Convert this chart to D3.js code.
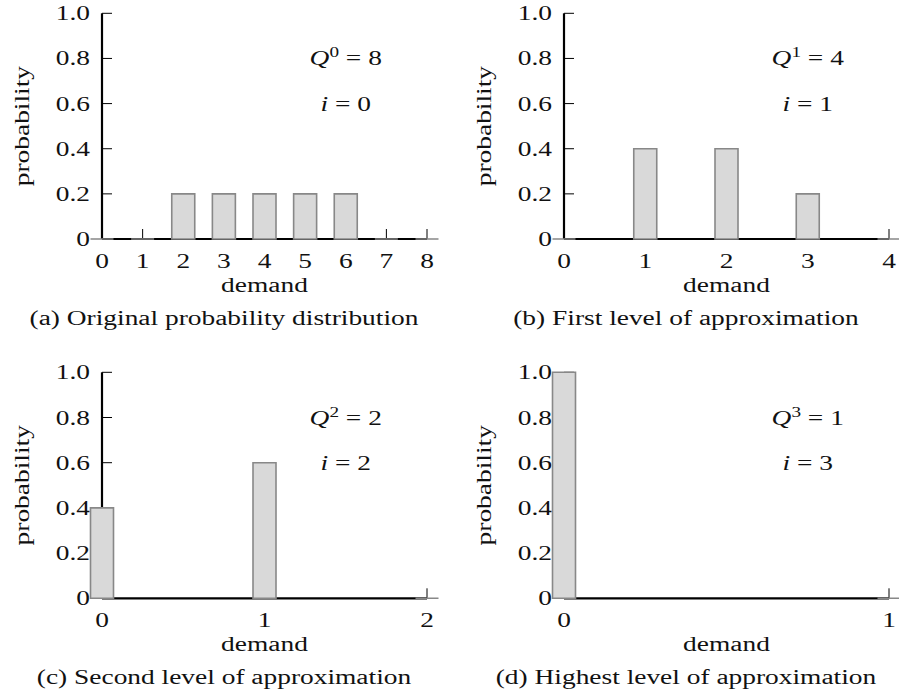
<!DOCTYPE html>
<html><head><meta charset="utf-8">
<script src="https://cdn.jsdelivr.net/npm/d3@7/dist/d3.min.js"></script>
<style>
body{margin:0;background:#fff;}
text{font-family:"Liberation Serif","Times New Roman",serif;fill:#111;}
</style></head>
<body><svg id="c" width="899" height="696"></svg>
<script>
// ---- data ----
const demandA = [0,1,2,3,4,5,6,7,8];
const probA   = [0,0,0.2,0.2,0.2,0.2,0.2,0,0];
const demandB = [0,1,2,3,4];
const probB   = [0,0.4,0.4,0.2,0];
const demandC = [0,1,2];
const probC   = [0.4,0.6,0];
const demandD = [0,1];
const probD   = [1.0,0];
const yTicks = [0,0.2,0.4,0.6,0.8,1.0];
const yTickLabels = ["0","0.2","0.4","0.6","0.8","1.0"];
const levels = [0,1,2,3];
const Qvalues = [8,4,2,1];
const captions = ["(a) Original probability distribution","(b) First level of approximation","(c) Second level of approximation","(d) Highest level of approximation"];
const xLabel = "demand", yLabel = "probability";

// ---- layout ----
const panels = [
  {demand:demandA, prob:probA, x0:102, x1:427, yb:239, yt:13.3},
  {demand:demandB, prob:probB, x0:564, x1:889, yb:239, yt:13.3},
  {demand:demandC, prob:probC, x0:102, x1:427, yb:598.3, yt:372.3},
  {demand:demandD, prob:probD, x0:564, x1:889, yb:598.3, yt:372.3}
];
const FS = 20, K = 1.37, barW = 23;
const svg = d3.select("#c");

function stretch(sel){
  sel.each(function(){
    const w = this.getComputedTextLength();
    d3.select(this).attr("textLength", w*K).attr("lengthAdjust","spacingAndGlyphs");
  });
  return sel;
}

panels.forEach((p,i)=>{
  const g = svg.append("g");
  const x = d3.scaleLinear().domain([0, d3.max(p.demand)]).range([p.x0,p.x1]);
  const y = d3.scaleLinear().domain([0,1]).range([p.yb,p.yt]);

  // y ticks (inward) and labels
  g.selectAll(".yt").data(yTicks.slice(1)).join("line")
    .attr("x1",p.x0).attr("x2",p.x0+10).attr("y1",d=>y(d)).attr("y2",d=>y(d))
    .attr("stroke","#000").attr("stroke-width",1);
  g.selectAll(".yl").data(yTicks).join("text")
    .attr("x",p.x0-12).attr("y",d=>y(d)+7).attr("text-anchor","end")
    .attr("font-size",FS).text((d,j)=>yTickLabels[j]).call(stretch);

  // x ticks (inward, upward)
  g.selectAll(".xt").data(p.demand).join("line")
    .attr("x1",d=>x(d)).attr("x2",d=>x(d)).attr("y1",p.yb).attr("y2",p.yb-10)
    .attr("stroke","#000").attr("stroke-width",1);
  g.selectAll(".xl").data(p.demand).join("text")
    .attr("x",d=>x(d)).attr("y",p.yb+29).attr("text-anchor","middle")
    .attr("font-size",FS).text(d=>d).call(stretch);

  // axes
  g.append("line").attr("x1",p.x0).attr("x2",p.x0).attr("y1",p.yb).attr("y2",p.yt)
    .attr("stroke","#000").attr("stroke-width",2.2);
  g.append("line").attr("x1",p.x0).attr("x2",p.x1).attr("y1",p.yb).attr("y2",p.yb)
    .attr("stroke","#000").attr("stroke-width",2.2);

  // bars (paths so zero-height bars still show their outline)
  g.selectAll(".bar").data(p.demand.map((d,j)=>({d, v:p.prob[j]}))).join("path")
    .attr("d",d=>{
      const xl = x(d.d)-barW/2, xr = x(d.d)+barW/2, yt = y(d.v), yb = y(0);
      return `M${xl},${yb}V${yt}H${xr}V${yb}Z`;
    })
    .attr("fill","#d9d9d9").attr("stroke","#888").attr("stroke-width",1.6)
    .attr("stroke-linejoin","miter");

  // axis titles
  const xm = (p.x0+p.x1)/2;
  g.append("text").attr("x",xm).attr("y",p.yb+(i<2?53:53)).attr("text-anchor","middle")
    .attr("font-size",FS).text(xLabel).call(stretch);
  const cx = p.x0-80, cy = (p.yb+p.yt)/2;
  g.append("text").attr("transform",`translate(${cx+7},${cy}) rotate(-90)`)
    .attr("text-anchor","middle").attr("font-size",FS).text(yLabel).call(stretch);

  // caption
  g.append("text").attr("x",i%2===0?224:686).attr("y",p.yb+86).attr("text-anchor","middle")
    .attr("font-size",FS).text(captions[i]).call(stretch);

  // annotations
  const ax = x(d3.max(p.demand)*0.75);
  const t1 = g.append("text").attr("x",ax).attr("y",y(0.8)+7).attr("text-anchor","middle").attr("font-size",FS);
  t1.append("tspan").attr("font-style","italic").text("Q");
  t1.append("tspan").attr("font-size",14).attr("dy",-8).text(levels[i]);
  t1.append("tspan").attr("dy",8).text(" = "+Qvalues[i]);
  stretch(t1);
  const t2 = g.append("text").attr("x",ax).attr("y",y(0.6)+7).attr("text-anchor","middle").attr("font-size",FS);
  t2.append("tspan").attr("font-style","italic").text("i");
  t2.append("tspan").text(" = "+levels[i]);
  stretch(t2);
});
</script></body></html>
